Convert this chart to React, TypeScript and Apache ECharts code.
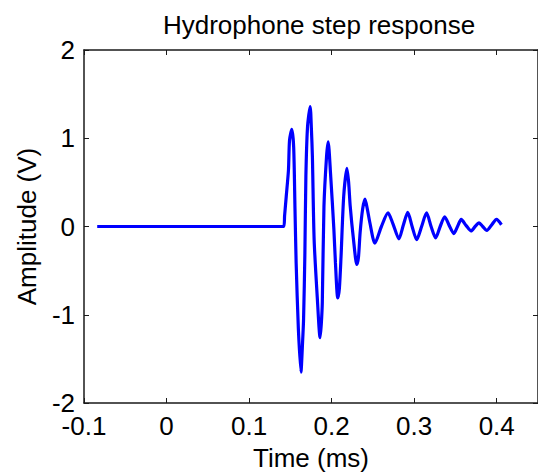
import React, { useEffect, useRef } from "react";
import * as echarts from "echarts";

const timeMs = [
  -0.084, 0.142, 0.143, 0.145, 0.1477, 0.149, 0.1517, 0.154, 0.1556, 0.157,
  0.1597, 0.1628, 0.1648, 0.166, 0.1676, 0.1688, 0.1708, 0.174, 0.1755, 0.1767,
  0.1788, 0.1827, 0.186, 0.1875, 0.1887, 0.1907, 0.1938, 0.1958, 0.1986, 0.2027,
  0.2046, 0.2074, 0.2094, 0.2114, 0.2146, 0.2185, 0.2206, 0.2225, 0.2265, 0.2305,
  0.2325, 0.2345, 0.2376, 0.2404, 0.2432, 0.2464, 0.2524, 0.2603, 0.2683, 0.2743,
  0.2815, 0.287, 0.2922, 0.2975, 0.303, 0.309, 0.315, 0.3205, 0.326, 0.3315,
  0.337, 0.3425, 0.348, 0.3525, 0.357, 0.363, 0.369, 0.3738, 0.3786, 0.383,
  0.388, 0.394, 0.3997, 0.4057,
];
const amplitudeV = [
  0, 0, 0.12, 0.34, 0.64, 0.98, 1.1, 0.9, 0.2, -0.41,
  -1.16, -1.65, -1.31, -1.05, -0.3, 0.57, 1.13, 1.36, 1.1, 0.79,
  -0.15, -0.82, -1.26, -1.1, -0.86, 0.23, 0.79, 0.96, 0.61, -0.03,
  -0.41, -0.81, -0.7, -0.34, 0.34, 0.66, 0.5, 0.23, -0.15, -0.43,
  -0.35, -0.07, 0.2, 0.31, 0.2, 0.04, -0.19, 0.0, 0.155, 0.03,
  -0.14, 0.02, 0.16, 0.0, -0.15, 0.0, 0.155, 0.0, -0.13, 0.0,
  0.11, 0.01, -0.08, 0.0, 0.08, 0.01, -0.05, 0.0, 0.04, 0.0,
  -0.045, 0.02, 0.08, 0.02,
];

const titleText = "Hydrophone step response";
const xName = "Time (ms)";
const yName = "Amplitude (V)";

const FONT = "'Liberation Sans', Arial, sans-serif";
const FS = 26;

export default function App() {
  const ref = useRef<HTMLDivElement>(null);
  useEffect(() => {
    if (!ref.current) return;
    const chart = echarts.init(ref.current, undefined, { renderer: "svg" });
    const data = timeMs.map((t, i) => [t, amplitudeV[i]]);
    const axisLine = { show: true, onZero: false, lineStyle: { color: "#1a1a1a", width: 1.5 } };
    const tick = { show: true, inside: true, length: 5, lineStyle: { color: "#1a1a1a" } };
    chart.setOption({
      animation: false,
      backgroundColor: "#ffffff",
      title: {
        text: titleText,
        left: 314,
        textAlign: "center",
        top: 7,
        textStyle: { fontFamily: FONT, fontSize: FS, fontWeight: "normal", color: "#000" },
      },
      grid: { left: 84, top: 50, width: 461, height: 354, containLabel: false },
      xAxis: [
        {
          type: "value",
          min: -0.1,
          max: 0.45,
          interval: 0.1,
          position: "bottom",
          name: xName,
          nameLocation: "middle",
          nameGap: 42,
          nameTextStyle: { fontFamily: FONT, fontSize: FS, color: "#000" },
          axisLine,
          axisTick: tick,
          axisLabel: {
            fontFamily: FONT,
            fontSize: FS,
            color: "#000",
            margin: 10,
            showMaxLabel: false,
            formatter: (v: number) => String(Math.round(v * 10) / 10),
          },
          splitLine: { show: false },
        },
        {
          type: "value",
          min: -0.1,
          max: 0.45,
          interval: 0.1,
          position: "top",
          axisLine,
          axisTick: tick,
          axisLabel: { show: false },
          splitLine: { show: false },
        },
      ],
      yAxis: [
        {
          type: "value",
          min: -2,
          max: 2,
          interval: 1,
          position: "left",
          name: yName,
          nameLocation: "middle",
          nameGap: 44,
          nameTextStyle: { fontFamily: FONT, fontSize: FS, color: "#000" },
          axisLine,
          axisTick: tick,
          axisLabel: { fontFamily: FONT, fontSize: FS, color: "#000", margin: 9 },
          splitLine: { show: false },
        },
        {
          type: "value",
          min: -2,
          max: 2,
          interval: 1,
          position: "right",
          axisLine,
          axisTick: tick,
          axisLabel: { show: false },
          splitLine: { show: false },
        },
      ],
      series: [
        {
          type: "line",
          data,
          xAxisIndex: 0,
          yAxisIndex: 0,
          showSymbol: false,
          smooth: 0.25,
          lineStyle: { color: "#0000ff", width: 3.2 },
          itemStyle: { color: "#0000ff" },
        },
      ],
    });
    return () => chart.dispose();
  }, []);
  return (
    <div
      ref={ref}
      style={{ position: "fixed", left: 0, top: 0, width: 538, height: 476, background: "#fff" }}
    />
  );
}
